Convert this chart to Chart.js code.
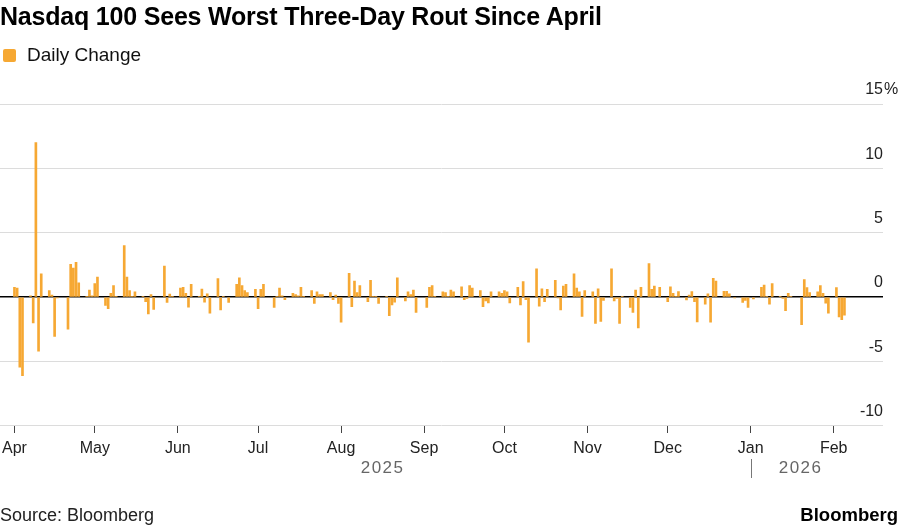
<!DOCTYPE html>
<html>
<head>
<meta charset="utf-8">
<script src="https://cdn.jsdelivr.net/npm/chart.js@4.4.1/dist/chart.umd.min.js"></script>
<style>
  body { margin: 0; background: #fff; font-family: 'Liberation Sans', Arial, sans-serif; }
  #wrap { position: relative; width: 900px; height: 528px; overflow: hidden; }
  canvas { position: absolute; left: 0; top: 0; }
  #title { position: absolute; left: 0; top: 2px; font-size: 25px; font-weight: bold; color: #000; letter-spacing: -0.2px; }
  #legend { position: absolute; left: 3px; top: 44px; font-size: 19px; color: #111; }
  #legend .box { display: inline-block; width: 13px; height: 13px; background: #F6A833; border-radius: 2px; margin-right: 11px; vertical-align: -1px; }
  #source { position: absolute; left: 0; top: 505px; font-size: 18px; color: #222; }
  #brand { position: absolute; right: 2px; top: 504px; font-size: 18.5px; font-weight: bold; color: #000; }
</style>
</head>
<body>
<div id="wrap">
  <canvas id="myChart" width="900" height="528"></canvas>
  <div id="title">Nasdaq 100 Sees Worst Three-Day Rout Since April</div>
  <div id="legend"><span class="box"></span>Daily Change</div>
  <div id="source">Source: Bloomberg</div>
  <div id="brand">Bloomberg</div>
</div>
<script>
// trading days: weekdays from Apr 1 2025 to Feb 5 2026, minus US market holidays
const firstDay = '2025-04-01';
const lastDay = '2026-02-05';
const holidays = ['2025-04-18', '2025-05-26', '2025-06-19', '2025-07-04', '2025-09-01',
                  '2025-11-27', '2025-12-25', '2026-01-01', '2026-01-19'];

// daily % change of the Nasdaq 100, one array per month
const aprChanges = [0.75, 0.7, -5.45, -6.1, 0.1, -2.0, 12.0, -4.2, 1.8, 0.5, 0.15, -3.05, -0.05,
                    -2.5, 2.55, 2.25, 2.7, 1.1, 0.05, 0.55, 0.1];
const mayChanges = [1.05, 1.55, -0.65, -0.9, 0.3, 0.9, 0.05, 4.0, 1.55, 0.5, 0.05, 0.4,
                    0.05, -0.35, -1.3, 0.2, -0.95, 2.4, -0.42, 0.23, 0.05];
const junChanges = [0.7, 0.75, 0.3, -0.78, 1.0, 0.05, 0.62, -0.4, 0.25, -1.25,
                    1.43, -1.0, 0.05, -0.42, 1.0, 1.5, 0.9, 0.5, 0.35, 0.6];
const julChanges = [-0.9, 0.6, 1.0, -0.8, 0.05, 0.7, 0.1, -0.2, 0.3, 0.2, 0.1, 0.75, 0.05,
                    0.5, -0.5, 0.4, 0.2, 0.2, 0.35, -0.2, 0.15, -0.5];
const augChanges = [-1.95, 1.85, -0.75, 1.25, 0.35, 0.9, -0.35, 1.3, 0.05, 0.05, -0.5,
                    0.05, -1.45, -0.6, -0.4, 1.5, -0.3, 0.4, 0.2, 0.55, -1.2];
const sepChanges = [-0.8, 0.75, 0.9, 0.05, 0.4, 0.35, 0.05, 0.55, 0.4, 0.8, -0.2, -0.1, 0.9, 0.7,
                    0.5, -0.75, -0.3, -0.45, 0.4, 0.4, 0.3];
const octChanges = [0.5, 0.4, -0.45, 0.75, -0.6, 1.2, -0.2, -3.5, 2.2, -0.7, 0.65, -0.35, 0.6,
                    1.3, -0.05, -1.0, 0.85, 1.0, 1.8, 0.7, 0.4, -1.5, 0.5];
const novChanges = [0.4, -2.05, 0.65, -1.9, -0.25, 2.2, -0.3, -0.1, -2.05, 0.05,
                    -0.8, -1.2, 0.55, -2.4, 0.75, 2.6, 0.6, 0.85, 0.75];
const decChanges = [-0.36, 0.8, 0.3, 0.05, 0.42, -0.23, 0.15, 0.42, -0.36, -1.93,
                    -0.55, 0.25, -1.95, 1.45, 1.25, 0.45, 0.45, 0.25, -0.05, -0.42, -0.26, -0.8];
const janChanges = [-0.15, 0.75, 0.94, 0.05, -0.55, 1.05, 0.05, -0.1, -1.05, 0.3, 0.05,
                    -2.15, 1.35, 0.73, 0.34, 0.4, 0.9, 0.3, -0.47, -1.25];
const febChanges = [0.73, -1.55, -1.75, -1.4];

const monthStarts = ['2025-04-01', '2025-05-01', '2025-06-01', '2025-07-01', '2025-08-01', '2025-09-01',
                     '2025-10-01', '2025-11-01', '2025-12-01', '2026-01-01', '2026-02-01'];
const monthLabels = ['Apr', 'May', 'Jun', 'Jul', 'Aug', 'Sep', 'Oct', 'Nov', 'Dec', 'Jan', 'Feb'];
const yearLabels = ['2025', '2026'];
const yTicks = [-10, -5, 0, 5, 10, 15];

const DAY = 86400000;
const t0 = Date.parse(firstDay);
const dayNum = s => Math.round((Date.parse(s) - t0) / DAY);

const dates = [];
for (let t = t0; t <= Date.parse(lastDay); t += DAY) {
  const d = new Date(t);
  const iso = d.toISOString().slice(0, 10);
  if (d.getUTCDay() === 0 || d.getUTCDay() === 6 || holidays.includes(iso)) continue;
  dates.push(iso);
}
const changes = [].concat(aprChanges, mayChanges, junChanges, julChanges, augChanges, sepChanges,
                          octChanges, novChanges, decChanges, janChanges, febChanges);
const points = dates.map((d, i) => ({ x: dayNum(d), y: changes[i] }));

const FONT = "'Liberation Sans', Arial, sans-serif";

// years under the months, with a divider at the new year
const yearRow = {
  id: 'yearRow',
  afterDraw(chart) {
    const { ctx, scales: { x, y } } = chart;
    ctx.save();
    ctx.font = '16px ' + FONT;
    ctx.textBaseline = 'middle';
    ctx.fillStyle = '#222';
    ctx.textAlign = 'left';
    ctx.fillText('%', x.right + 1, y.getPixelForValue(15) - 14);

    const jan = x.getPixelForValue(dayNum('2026-01-01'));
    const first = x.getPixelForValue(points[0].x);
    const last = x.getPixelForValue(points[points.length - 1].x);
    ctx.font = '17px ' + FONT;
    ctx.letterSpacing = '1.5px';
    ctx.fillStyle = '#666';
    ctx.textAlign = 'center';
    ctx.fillText(yearLabels[0], (first + jan) / 2, 468);
    ctx.fillText(yearLabels[1], (jan + last + 6) / 2, 468);
    ctx.strokeStyle = '#777';
    ctx.lineWidth = 1;
    ctx.beginPath();
    ctx.moveTo(Math.round(jan) + 0.5, 459);
    ctx.lineTo(Math.round(jan) + 0.5, 478);
    ctx.stroke();
    ctx.restore();
  }
};

var ctx = document.getElementById('myChart').getContext('2d');
var myChart = new Chart(ctx, {
  type: 'bar',
  data: {
    datasets: [{
      label: 'Daily Change',
      data: points,
      backgroundColor: '#F6A833',
      barThickness: 2
    }]
  },
  options: {
    responsive: false,
    animation: false,
    layout: { padding: { top: 104, right: 17, bottom: 70, left: 0 } },
    plugins: {
      legend: { display: false },
      tooltip: { enabled: false }
    },
    scales: {
      x: {
        type: 'linear',
        offset: false,
        min: -5.4,
        max: 324.4,
        afterBuildTicks: scale => {
          scale.ticks = monthStarts.map(s => ({ value: dayNum(s) }));
        },
        ticks: {
          autoSkip: false,
          maxRotation: 0,
          padding: 0,
          color: '#222',
          font: { family: FONT, size: 16 },
          callback: (v, i) => monthLabels[i]
        },
        // long tick slot, only the first 7px drawn, so labels sit lower
        grid: { offset: false, drawOnChartArea: false, drawTicks: true, tickLength: 13,
                tickBorderDash: [7, 50], color: '#444' },
        border: { display: false }
      },
      y: {
        position: 'right',
        min: -10,
        max: 15,
        afterBuildTicks: scale => {
          scale.ticks = yTicks.map(v => ({ value: v }));
        },
        ticks: {
          mirror: true,
          padding: 0,
          labelOffset: -14,
          color: '#222',
          font: { family: FONT, size: 16 },
          callback: v => String(v)
        },
        grid: {
          drawTicks: false,
          color: c => c.tick && c.tick.value === 0 ? '#000' : '#dcdcdc',
          lineWidth: c => c.tick && c.tick.value === 0 ? 1.5 : 1
        },
        border: { display: false }
      }
    }
  },
  plugins: [yearRow]
});
</script>
</body>
</html>
